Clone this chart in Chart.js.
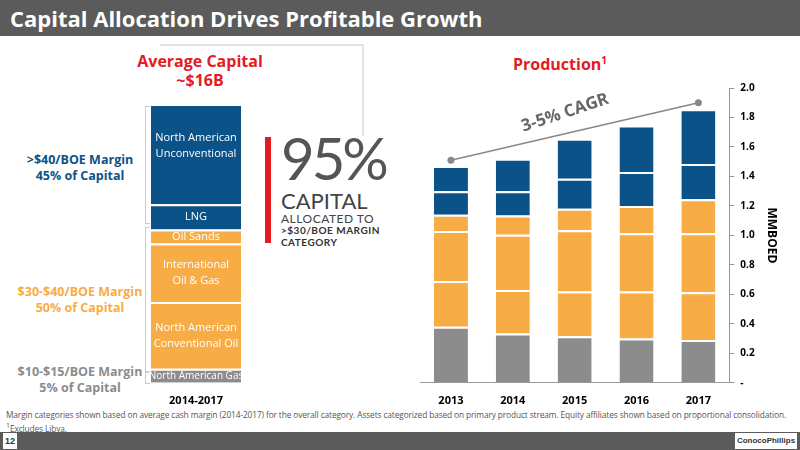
<!DOCTYPE html>
<html><head><meta charset="utf-8">
<script src="https://cdn.jsdelivr.net/npm/chart.js@4/dist/chart.umd.min.js"></script>
<style>
body{margin:0;width:800px;height:450px;overflow:hidden;background:#fff;font-family:Lato,"Open Sans",sans-serif;position:relative}
.abs{position:absolute}
#title{left:0;top:0;width:800px;height:36px;background:#5b5b5b;color:#fff;font:bold 22px "Open Sans",sans-serif;line-height:36px;padding-left:10px;box-sizing:border-box}
.lbl{font-weight:bold;font-size:12.5px;text-align:center;line-height:16px;font-family:"Open Sans",sans-serif}
#foot{left:6px;top:410px;width:798px;color:#555;font-size:8.3px;line-height:10.5px;font-family:"Open Sans",sans-serif;letter-spacing:-0.1px;white-space:nowrap}
</style></head><body>
<div id="title" class="abs">Capital Allocation Drives Profitable Growth</div>
<div class="abs" style="left:160px;top:44px;width:202px;height:90px;border-top:2px solid #e2e2e2;border-right:2px solid #e2e2e2"></div>
<div class="abs lbl" style="left:120px;top:52px;width:160px;color:#e31b23;font-size:16px;line-height:19px">Average Capital<br>~$16B</div>
<div class="abs lbl" style="left:480px;top:52px;width:160px;color:#e31b23;font-size:16px">Production<sup style="font-size:10px">1</sup></div>
<div class="abs lbl" style="left:15px;top:152px;width:130px;color:#0b5288">&gt;$40/BOE Margin<br>45% of Capital</div>
<div class="abs lbl" style="left:15px;top:284px;width:130px;color:#f8ac45">$30-$40/BOE Margin<br>50% of Capital</div>
<div class="abs lbl" style="left:15px;top:364px;width:130px;color:#8c8c8c">$10-$15/BOE Margin<br>5% of Capital</div>
<div class="abs" style="left:145px;top:106px;width:4px;height:116px;border:1px solid #ccc;border-right:none"></div>
<div class="abs" style="left:145px;top:227px;width:4px;height:143px;border:1px solid #ccc;border-right:none"></div>
<div class="abs" style="left:145px;top:372px;width:4px;height:10px;border:1px solid #ccc;border-right:none"></div>
<div class="abs" style="left:265px;top:137px;width:6px;height:106px;background:#e31b23"></div>
<div class="abs" style="left:281px;top:128px;color:#555;font:58px/60px Lato,sans-serif;letter-spacing:-3px">95%</div>
<div class="abs" style="left:281px;top:190px;color:#444;font:22px/22px Lato,sans-serif">CAPITAL</div>
<div class="abs" style="left:281px;top:212px;color:#444;font:12px/13px Lato,sans-serif;letter-spacing:0.5px">ALLOCATED TO</div>
<div class="abs" style="left:281px;top:224px;color:#333;font:bold 10px/12px Lato,sans-serif;letter-spacing:0.5px">&gt;$30/BOE MARGIN<br>CATEGORY</div>
<div id="foot" class="abs">Margin categories shown based on average cash margin (2014-2017) for the overall category. Assets categorized based on primary product stream. Equity affiliates shown based on proportional consolidation.<br><sup style="font-size:7px">1</sup>Excludes Libya.</div>
<div class="abs" style="left:0;top:432px;width:800px;height:18px;background:#5b5b5b"></div>
<div class="abs" style="left:3px;top:433px;width:14px;height:16px;background:#fff;color:#333;font:bold 9px/16px sans-serif;text-align:center">12</div>
<div class="abs" style="left:735px;top:433px;width:62px;height:16px;background:#fff;color:#333;font:bold 8px/16px sans-serif;text-align:center">ConocoPhillips</div>
<div class="abs" style="left:147px;top:100px;width:98px;height:310px"><canvas id="c1"></canvas></div>
<div class="abs" style="left:400px;top:76px;width:400px;height:334px"><canvas id="c2"></canvas></div>
<script>
const capCategory=["2014-2017"];
const capSegments=["North American Gas","North American\nConventional Oil","International\nOil & Gas","Oil Sands","LNG","North American\nUnconventional"];
const capValues=[5,24,21,5,9,36];
const capColors=["#8c8c8c","#f8ac45","#f8ac45","#f8ac45","#0b5288","#0b5288"];
const years=["2013","2014","2015","2016","2017"];
const prodSeries=[
 [0.38,0.335,0.315,0.30,0.29],
 [0.31,0.295,0.305,0.32,0.325],
 [0.34,0.375,0.415,0.395,0.40],
 [0.11,0.13,0.145,0.185,0.23],
 [0.16,0.165,0.205,0.23,0.24],
 [0.17,0.22,0.27,0.315,0.37]];
const prodColors=["#8c8c8c","#f8ac45","#f8ac45","#f8ac45","#0b5288","#0b5288"];
const cagrLine=[1.51,null,null,null,1.90];
const yTicks=[0,0.2,0.4,0.6,0.8,1.0,1.2,1.4,1.6,1.8,2.0];

const segLabels={id:'segLabels',afterDatasetsDraw(ch){const c=ch.ctx;c.save();c.fillStyle='#fff';c.textAlign='center';c.textBaseline='middle';
 ch.data.datasets.forEach((d,i)=>{const el=ch.getDatasetMeta(i).data[0];const lines=d.label.split('\n');const cy=i==5?(el.y+el.base)/2-8:(el.y+el.base)/2;
  c.font=(i==0?'10px':'11px')+' "Open Sans",sans-serif';
  lines.forEach((l,k)=>c.fillText(l,el.x,cy+(k-(lines.length-1)/2)*16));});c.restore();}};
new Chart(document.getElementById('c1'),{type:'bar',
 data:{labels:capCategory,datasets:capValues.map((v,i)=>({label:capSegments[i],data:[v],backgroundColor:capColors[i],borderColor:'#fff',borderWidth:{top:2,bottom:0,left:0,right:0},borderSkipped:false,barPercentage:1,categoryPercentage:0.92}))},
 options:{responsive:true,maintainAspectRatio:false,animation:false,events:[],layout:{padding:{top:4,left:0,right:0}},
  plugins:{legend:{display:false},tooltip:{enabled:false}},
  scales:{x:{stacked:true,grid:{display:false},border:{display:false},ticks:{color:'#000',font:{weight:'bold',size:11,family:'"Open Sans"'}}},
   y:{stacked:true,display:false,min:0,max:100}}},plugins:[segLabels]});

const cagrText={id:'cagrText',afterDatasetsDraw(ch){const c=ch.ctx;const x=ch.scales.x,y=ch.scales.y;const x0=x.getPixelForValue(0),x1=x.getPixelForValue(4);const y0=y.getPixelForValue(1.51),y1=y.getPixelForValue(1.90);
 c.save();c.translate(x0+(x1-x0)*0.5-8,y0+(y1-y0)*0.5-14);c.rotate(Math.atan2(y1-y0,x1-x0)*1.4);c.fillStyle='#666';c.font='bold 17px "Open Sans",sans-serif';c.textAlign='center';c.fillText('3-5% CAGR',0,0);c.restore();}};
const ds=prodSeries.map((s,i)=>({type:'bar',data:s,backgroundColor:prodColors[i],borderColor:'#fff',borderWidth:{top:2,bottom:0,left:0,right:0},borderSkipped:false,barPercentage:0.55,categoryPercentage:1,order:2}));
ds.push({type:'line',data:cagrLine,spanGaps:true,borderColor:'#888',borderWidth:1.5,pointRadius:3.5,pointBackgroundColor:'#888',pointBorderWidth:0,stack:'line',order:1});
new Chart(document.getElementById('c2'),{type:'bar',data:{labels:years,datasets:ds},
 options:{responsive:true,maintainAspectRatio:false,animation:false,events:[],layout:{padding:{top:0,left:20,right:17}},
  plugins:{legend:{display:false},tooltip:{enabled:false}},
  scales:{x:{stacked:true,grid:{display:false},border:{color:'#999'},ticks:{color:'#000',font:{weight:'bold',size:11,family:'"Open Sans"'}}},
   y:{stacked:true,position:'right',min:0,max:2,afterBuildTicks(s){s.ticks=yTicks.map(v=>({value:v}));},
    grid:{drawOnChartArea:false,tickLength:5,color:'#999'},border:{color:'#999'},
    ticks:{color:'#000',font:{weight:'bold',size:10,family:'"Open Sans"'},callback:v=>v==0?'-':v.toFixed(1),padding:6},
    title:{display:true,text:'MMBOED',color:'#000',font:{weight:'bold',size:12,family:'"Open Sans"'}}}}},plugins:[cagrText]});
</script></body></html>
